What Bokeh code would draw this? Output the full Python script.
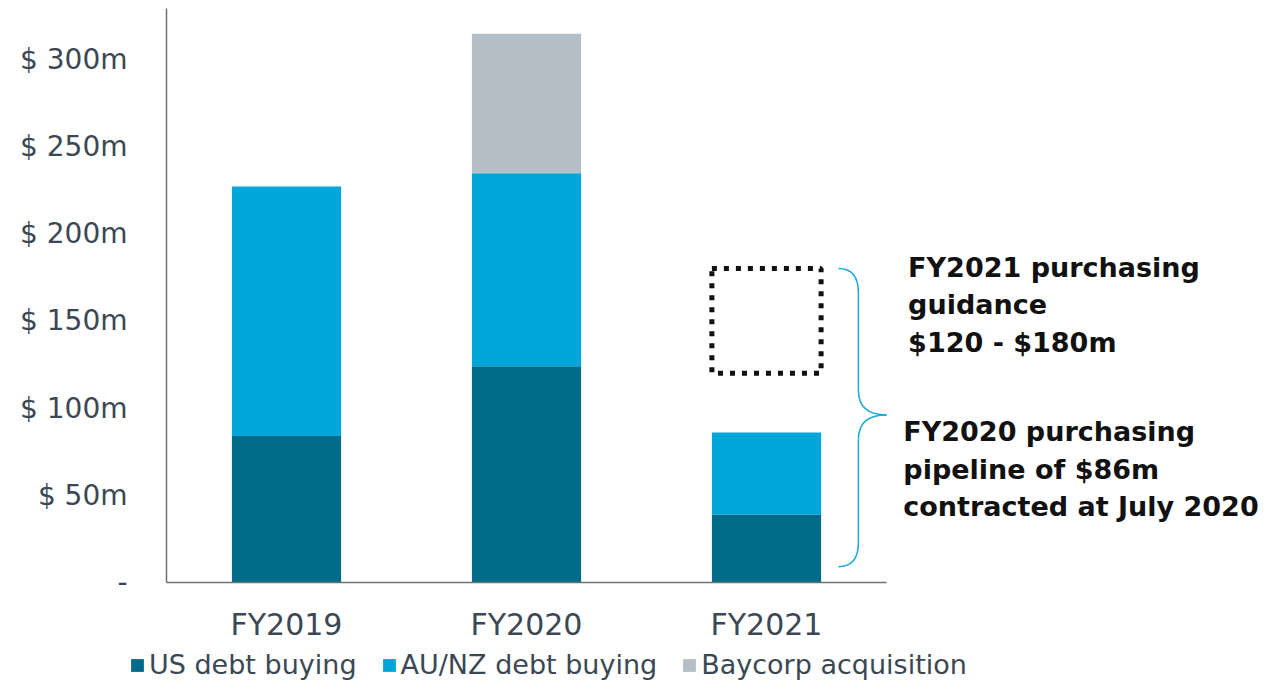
from bokeh.plotting import figure
from bokeh.models import Range1d, FixedTicker, Legend, LegendItem, ColumnDataSource
from bokeh.core.properties import value
from bokeh.embed import file_html
from bokeh.resources import INLINE

# ---- data ----
years = ["FY2019", "FY2020", "FY2021"]
us_debt = [84, 124, 39]
aunz_debt = [143, 110.5, 47]
baycorp = [0, 80, 0]
guidance_low = 120
guidance_high = 180
brace_top = 180
brace_bottom = 9
y_max = 329
y_ticks = [0, 50, 100, 150, 200, 250, 300]
y_tick_labels = ["-", "$ 50m", "$ 100m", "$ 150m", "$ 200m", "$ 250m", "$ 300m"]
note_guidance = ["FY2021 purchasing", "guidance", "$120 - $180m"]
note_pipeline = ["FY2020 purchasing", "pipeline of $86m", "contracted at July 2020"]
legend_labels = ["US debt buying", "AU/NZ debt buying", "Baycorp acquisition"]

C_US = "#006B8A"
C_AU = "#00A6DA"
C_BAY = "#B4BEC6"
FONT = "DejaVu Sans"

xs = [i + 0.5 for i in range(len(years))]
bar_w = 0.455

# frame covers whole canvas; axes are fixed inside it
W, H = 1280, 680
ox, oy = 166, 582          # pixel position of data origin
sx = 240.0                 # px per category
sy = (oy - 8) / y_max      # px per $m
p = figure(frame_width=W, frame_height=H, output_backend="svg", toolbar_location=None,
           x_range=Range1d(-ox / sx, (W - ox) / sx),
           y_range=Range1d(-(H - oy) / sy, oy / sy),
           min_border=0)
p.outline_line_color = None
p.grid.grid_line_color = None

src = ColumnDataSource(dict(x=xs, us=us_debt, au=aunz_debt, bay=baycorp))
r = p.vbar_stack(["us", "au", "bay"], x="x", width=bar_w, source=src,
                 color=[C_US, C_AU, C_BAY], line_color=None)

# x axis baseline under the bars region
p.segment(x0=[0], y0=[0], x1=[3.0], y1=[0], line_color="#6D7278", line_width=1.5)

# guidance box (dotted)
p.quad(left=[xs[2] - bar_w / 2], right=[xs[2] + bar_w / 2],
       bottom=[guidance_low], top=[guidance_high],
       fill_color=None, line_color="#111111", line_width=5, line_dash="5 7")

# curly brace
bx0, bx1, bx2 = 2.80, 2.883, 3.0
mid = (brace_top + brace_bottom) / 2 + 1.5
k = 14
bc = "#1AA9DF"
p.quadratic(x0=[bx0], y0=[brace_top], x1=[bx1], y1=[brace_top - k], cx=[bx1], cy=[brace_top], line_color=bc, line_width=1.5)
p.segment(x0=[bx1], y0=[brace_top - k], x1=[bx1], y1=[mid + k], line_color=bc, line_width=1.5)
p.quadratic(x0=[bx1], y0=[mid + k], x1=[bx2], y1=[mid], cx=[bx1], cy=[mid], line_color=bc, line_width=1.5)
p.quadratic(x0=[bx2], y0=[mid], x1=[bx1], y1=[mid - k], cx=[bx1], cy=[mid], line_color=bc, line_width=1.5)
p.segment(x0=[bx1], y0=[mid - k], x1=[bx1], y1=[brace_bottom + k], line_color=bc, line_width=1.5)
p.quadratic(x0=[bx1], y0=[brace_bottom + k], x1=[bx0], y1=[brace_bottom], cx=[bx1], cy=[brace_bottom], line_color=bc, line_width=1.5)

# notes
line_step = 21.5
g_y = [180.7 - i * line_step for i in range(3)]
p.text(x=[3.09] * 3, y=g_y, text=note_guidance, text_font=value(FONT),
       text_font_style="bold", text_font_size="27px", text_color="#111111",
       text_baseline="middle", text_align="left")
pl_y = [86.5 - i * line_step for i in range(3)]
p.text(x=[3.07] * 3, y=pl_y, text=note_pipeline, text_font=value(FONT),
       text_font_style="bold", text_font_size="27px", text_color="#111111",
       text_baseline="middle", text_align="left")

# axes (fixed inside the frame)
p.yaxis.fixed_location = 0
p.yaxis.bounds = (0, y_max)
p.yaxis.ticker = FixedTicker(ticks=y_ticks)
p.yaxis.major_label_overrides = {t: l for t, l in zip(y_ticks, y_tick_labels)}
p.yaxis.axis_line_color = "#6D7278"
p.yaxis.axis_line_width = 1.5
p.yaxis.major_tick_line_color = None
p.yaxis.minor_tick_line_color = None
p.yaxis.major_label_text_font = FONT
p.yaxis.major_label_text_font_size = "28px"
p.yaxis.major_label_text_color = "#3B4853"
p.yaxis.major_label_standoff = 33

p.xaxis.fixed_location = 0
p.xaxis.ticker = FixedTicker(ticks=xs)
p.xaxis.major_label_overrides = {x: y for x, y in zip(xs, years)}
p.xaxis.axis_line_color = None
p.xaxis.major_tick_line_color = None
p.xaxis.minor_tick_line_color = None
p.xaxis.major_label_text_font = FONT
p.xaxis.major_label_text_font_size = "30px"
p.xaxis.major_label_text_color = "#3B4853"
p.xaxis.major_label_standoff = 18

legend = Legend(items=[LegendItem(label=legend_labels[i], renderers=[r[i]]) for i in range(3)],
                orientation="horizontal", label_text_font=FONT, label_text_font_size="27px",
                label_text_color="#3B4853", glyph_width=16, glyph_height=16,
                spacing=24, label_standoff=4, padding=0, margin=0,
                border_line_color=None, background_fill_alpha=0,
                location=(129, 0))
p.add_layout(legend, "center")

open("out.html", "w").write(file_html(p, INLINE))
